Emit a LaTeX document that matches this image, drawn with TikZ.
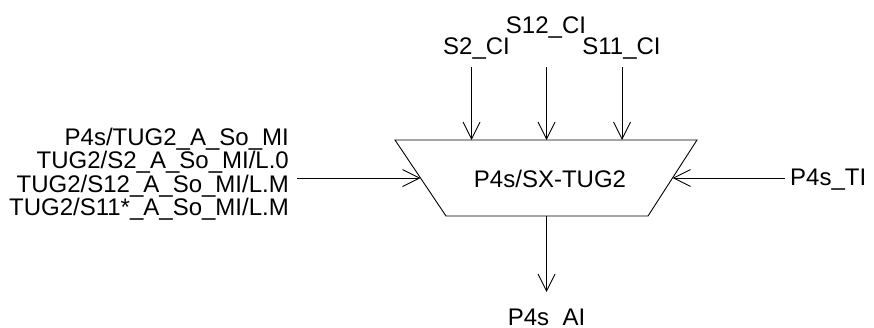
\documentclass[tikz,border=0pt]{standalone}
\usepackage{fontspec}
\setmainfont{Liberation Sans}
\usetikzlibrary{arrows.meta}
\tikzset{
  lbl/.style={inner sep=0pt, font=\fontsize{24}{25}\selectfont},
  sig/.style={line width=0.9pt, -{Straight Barb[length=17pt,width=17pt,line width=0.9pt]}},
  blk/.style={line width=0.9pt}
}
\begin{document}
\begin{tikzpicture}[x=1pt,y=-1pt]
\useasboundingbox (0,0) rectangle (874,327);
% block
\coordinate (tl) at (395,140);
\coordinate (tr) at (697,140);
\coordinate (br) at (648,216);
\coordinate (bl) at (446,216);
\draw[blk] (tl) -- (tr) -- (br) -- (bl) -- cycle;
\node[lbl, anchor=base] (core) at (550,187) {P4s/SX-TUG2};
% top inputs
\node[lbl, anchor=base] (s2) at (476.5,54) {S2\_CI};
\node[lbl, anchor=base] (s12) at (546,33) {S12\_CI};
\node[lbl, anchor=base] (s11) at (621.5,54) {S11\_CI};
\coordinate (s2a) at (471.5,67);
\coordinate (s12a) at (546.5,67);
\coordinate (s11a) at (622,67);
\coordinate (s2b) at (471.5,140);
\coordinate (s12b) at (546.5,140);
\coordinate (s11b) at (622,140);
\draw[sig] (s2a) -- (s2b);
\draw[sig] (s12a) -- (s12b);
\draw[sig] (s11a) -- (s11b);
% left inputs
\node[lbl, anchor=base east] (l1) at (289,145) {P4s/TUG2\_A\_So\_MI};
\node[lbl, anchor=base east] (l2) at (289,168.5) {TUG2/S2\_A\_So\_MI/L.0};
\node[lbl, anchor=base east] (l3) at (289,192) {TUG2/S12\_A\_So\_MI/L.M};
\node[lbl, anchor=base east] (l4) at (289,215.5) {TUG2/S11*\_A\_So\_MI/L.M};
\coordinate (la) at (297,178);
\coordinate (lb) at (420.5,178);
\draw[sig] (la) -- (lb);
% right input
\node[lbl, anchor=base west] (ti) at (790,185) {P4s\_TI};
\coordinate (ra) at (785,178);
\coordinate (rb) at (672.5,178);
\draw[sig] (ra) -- (rb);
% output
\coordinate (oa) at (546.5,216);
\coordinate (ob) at (546.5,292);
\draw[sig] (oa) -- (ob);
\node[lbl, anchor=base] (ai) at (546.5,325) {P4s\_AI};
\end{tikzpicture}
\end{document}
